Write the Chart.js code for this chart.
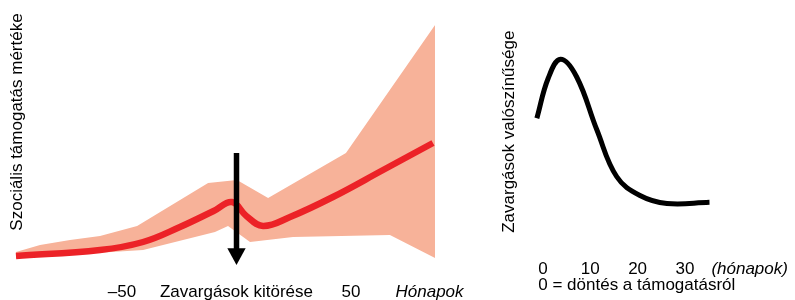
<!DOCTYPE html>
<html>
<head>
<meta charset="utf-8">
<script src="https://cdn.jsdelivr.net/npm/chart.js@4/dist/chart.umd.min.js"></script>
<style>
  html, body { margin: 0; padding: 0; background: #fff; }
  #wrap { position: relative; width: 795px; height: 300px; overflow: hidden; }
  canvas { position: absolute; top: 0; }
  #left { left: 0; }
  #right { left: 490px; }
</style>
</head>
<body>
<div id="wrap">
  <canvas id="left" width="470" height="300"></canvas>
  <canvas id="right" width="305" height="300"></canvas>
</div>
<script>
// ---------- Left chart data (months relative to outbreak, support level) ----------
const supportMonths = [-96.3, -59.6, -40.8, -24.7, -10.0, -2.0, 4.3, 11.6, 23.4, 42.1, 64.0, 85.8];
const supportValues = [5.6, 8.0, 11.2, 17.2, 23.6, 27.2, 21.6, 17.6, 21.2, 29.2, 40.0, 50.8];

const upperMonths = [-96.3, -85.8, -72.7, -59.6, -43.4, -12.4, 0.2, 13.8, 47.8, 86.7];
const upperValues = [7.2, 10.0, 12.0, 13.6, 17.6, 34.8, 36.0, 28.8, 46.8, 98.0];

const lowerMonths = [-96.3, -40.8, -9.4, -3.7, 5.9, 24.7, 67.0, 86.7];
const lowerValues = [4.8, 8.0, 15.2, 17.6, 11.2, 13.2, 14.0, 4.8];

const leftTicks = [-50, 0, 50];
const leftTickLabels = ['\u201350', 'Zavargások kitörése', '50'];
const leftUnitLabel = 'Hónapok';
const leftUnitAt = 84.3;
const leftAxisTitle = 'Szociális támogatás mértéke';

// arrow marking the outbreak (month, top value, head start value, tip value, half width in months)
const arrowMonth = [0];
const arrowTop = [46.8];
const arrowHeadTop = [8.7];
const arrowTip = [2.0];
const arrowHalfWidth = [4.0];

// ---------- Right chart data (months after decision, riot probability) ----------
const riskMonths = [-1.3, 1.1, 3.7, 7.1, 11.4, 15.6, 20.5, 26.2, 35.2];
const riskValues = [60.7, 76.7, 84.3, 77.3, 56.0, 37.3, 29.8, 26.6, 27.1];

const rightTicks = [0, 10, 20, 30];
const rightTickLabels = ['0', '10', '20', '30'];
const rightUnitLabel = '(hónapok)';
const rightUnitAt = 35.6;
const rightNote = '0 = döntés a támogatásról';
const rightAxisTitle = 'Zavargások valószínűsége';

const FONT = '"Liberation Sans", Arial, Helvetica, sans-serif';
const BAND = '#f7b299';
const RED = '#ec2227';

function pts(xs, ys) { return xs.map((x, i) => ({ x: x, y: ys[i] })); }

const hiddenScales = (xmin, xmax) => ({
  x: { type: 'linear', min: xmin, max: xmax, display: false },
  y: { type: 'linear', min: 0, max: 100, display: false }
});

// ---------- Left chart ----------
const leftTextPlugin = {
  id: 'leftText',
  afterDatasetsDraw(chart) {
    const ctx = chart.ctx, xs = chart.scales.x, ys = chart.scales.y;
    ctx.save();
    ctx.fillStyle = '#000';
    ctx.strokeStyle = '#000';
    for (let i = 0; i < arrowMonth.length; i++) {
      const ax = xs.getPixelForValue(arrowMonth[i]);
      const top = ys.getPixelForValue(arrowTop[i]);
      const headTop = ys.getPixelForValue(arrowHeadTop[i]);
      const tip = ys.getPixelForValue(arrowTip[i]);
      const hw = xs.getPixelForValue(arrowMonth[i] + arrowHalfWidth[i]) - ax;
      ctx.lineWidth = 5.5;
      ctx.beginPath();
      ctx.moveTo(ax, top);
      ctx.lineTo(ax, headTop + 1);
      ctx.stroke();
      ctx.beginPath();
      ctx.moveTo(ax - hw, headTop);
      ctx.lineTo(ax + hw, headTop);
      ctx.lineTo(ax, tip);
      ctx.closePath();
      ctx.fill();
    }
    ctx.font = '17px ' + FONT;
    ctx.textAlign = 'center';
    ctx.textBaseline = 'alphabetic';
    leftTicks.forEach((t, i) => ctx.fillText(leftTickLabels[i], xs.getPixelForValue(t), 297));
    ctx.font = 'italic 17px ' + FONT;
    ctx.fillText(leftUnitLabel, xs.getPixelForValue(leftUnitAt), 297);
    ctx.font = '17px ' + FONT;
    ctx.translate(22.3, 122);
    ctx.rotate(-Math.PI / 2);
    ctx.fillText(leftAxisTitle, 0, 0);
    ctx.restore();
  }
};

new Chart(document.getElementById('left'), {
  type: 'line',
  data: {
    datasets: [
      {
        label: 'Támogatás',
        data: pts(supportMonths, supportValues),
        borderColor: RED,
        borderWidth: 6.5,
        borderCapStyle: 'butt',
        pointRadius: 0,
        tension: 0.4,
        fill: false,
        order: 0
      },
      {
        label: 'Felső',
        data: pts(upperMonths, upperValues),
        borderWidth: 0,
        borderColor: BAND,
        backgroundColor: BAND,
        pointRadius: 0,
        tension: 0,
        fill: '+1',
        order: 1
      },
      {
        label: 'Alsó',
        data: pts(lowerMonths, lowerValues),
        borderWidth: 0,
        borderColor: BAND,
        backgroundColor: BAND,
        pointRadius: 0,
        tension: 0,
        fill: false,
        order: 2
      }
    ]
  },
  options: {
    responsive: false,
    animation: false,
    events: [],
    layout: { padding: { left: 7.5, right: 27.4, top: 20, bottom: 30 } },
    scales: hiddenScales(-100, 90),
    plugins: { legend: { display: false }, tooltip: { enabled: false } }
  },
  plugins: [leftTextPlugin]
});

// ---------- Right chart ----------
const rightTextPlugin = {
  id: 'rightText',
  afterDatasetsDraw(chart) {
    const ctx = chart.ctx, xs = chart.scales.x;
    ctx.save();
    ctx.fillStyle = '#000';
    ctx.font = '17px ' + FONT;
    ctx.textAlign = 'center';
    ctx.textBaseline = 'alphabetic';
    rightTicks.forEach((t, i) => ctx.fillText(rightTickLabels[i], xs.getPixelForValue(t), 273.5));
    ctx.font = 'italic 17px ' + FONT;
    ctx.textAlign = 'left';
    ctx.fillText(rightUnitLabel, xs.getPixelForValue(rightUnitAt), 273.5);
    ctx.font = '17px ' + FONT;
    const zeroW = ctx.measureText('0').width;
    ctx.fillText(rightNote, xs.getPixelForValue(0) - zeroW / 2, 290);
    ctx.textAlign = 'center';
    ctx.translate(24, 131.7);
    ctx.rotate(-Math.PI / 2);
    ctx.fillText(rightAxisTitle, 0, 0);
    ctx.restore();
  }
};

new Chart(document.getElementById('right'), {
  type: 'line',
  data: {
    datasets: [
      {
        label: 'Valószínűség',
        data: pts(riskMonths, riskValues),
        borderColor: '#000',
        borderWidth: 5,
        borderCapStyle: 'butt',
        pointRadius: 0,
        tension: 0.4,
        fill: false
      }
    ]
  },
  options: {
    responsive: false,
    animation: false,
    events: [],
    layout: { padding: { left: 29.35, right: 62.8, top: 20, bottom: 30 } },
    scales: hiddenScales(-5, 40),
    plugins: { legend: { display: false }, tooltip: { enabled: false } }
  },
  plugins: [rightTextPlugin]
});
</script>
</body>
</html>
